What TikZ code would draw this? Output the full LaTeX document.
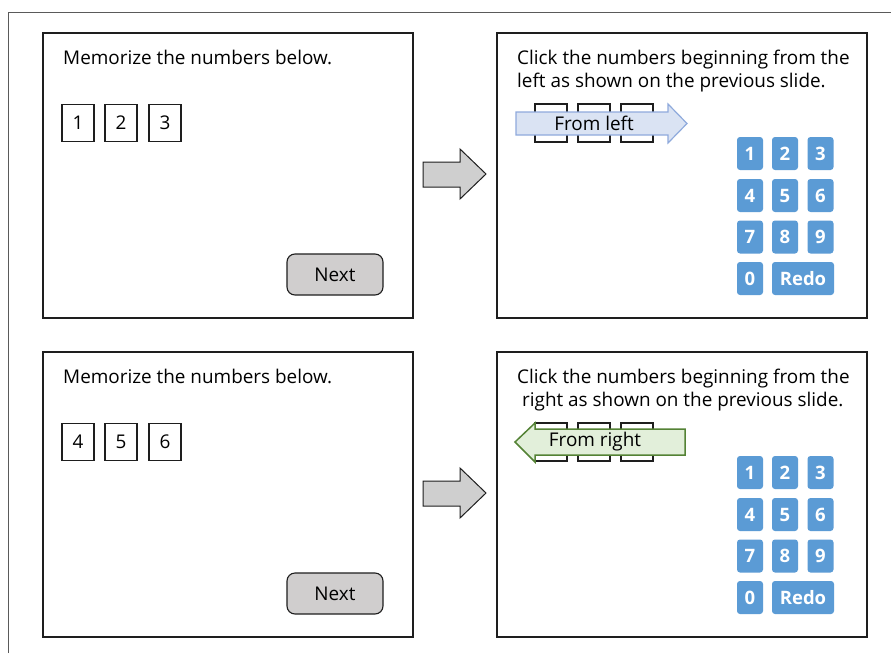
\documentclass[tikz,border=0pt]{standalone}
\usepackage{fontspec}
\setmainfont{Open Sans}
\definecolor{frameC}{HTML}{5A5A5A}
\definecolor{panelC}{HTML}{1E1E1E}
\definecolor{btnFill}{HTML}{D0CECE}
\definecolor{grayArrow}{HTML}{CFCFCF}
\definecolor{blueFill}{HTML}{DAE3F3}
\definecolor{blueLine}{HTML}{8FAADC}
\definecolor{greenFill}{HTML}{E2EFDA}
\definecolor{greenLine}{HTML}{548235}
\definecolor{keyC}{HTML}{5B9BD5}
\begin{document}
\begin{tikzpicture}[x=1pt,y=-1pt,
  panel/.style={draw=panelC,line width=1.3pt,fill=white},
  mainfont/.style={font=\fontsize{18.9}{22}\selectfont},
  txt/.style={mainfont,inner sep=0pt,anchor=base west},
  numbox/.style={draw=panelC,line width=1.1pt,minimum width=32pt,minimum height=37pt,inner sep=0pt,mainfont},
  nextbtn/.style={draw=panelC,line width=1.1pt,fill=btnFill,rounded corners=8pt,minimum width=96pt,minimum height=41pt,inner sep=0pt,mainfont},
  keybtn/.style={fill=keyC,rounded corners=3pt,minimum width=26pt,minimum height=33pt,inner sep=0pt,text=white,font=\fontsize{18.5}{20}\selectfont\bfseries},
  widekey/.style={keybtn,minimum width=62pt},
  garrow/.style={draw=panelC,line width=1pt,fill=grayArrow,line join=miter},
]
\useasboundingbox (0,0) rectangle (891,653);
\fill[white] (0,0) rectangle (891,653);
\draw[frameC,line width=1pt] (8,653) -- (8,12) -- (891,12);

\foreach \dy/\a/\b/\c/\r in {0/1/2/3/t, 319/4/5/6/b}{
  \begin{scope}[yshift=-\dy pt]
  % left panel
  \draw[panel] (43,33) rectangle (413,318);
  \node[txt] (mem\r) at (63,64) {Memorize the numbers below.};
  \node[numbox] (bx1\r) at (78,123) {\a};
  \node[numbox] (bx2\r) at (121,123) {\b};
  \node[numbox] (bx3\r) at (165,123) {\c};
  \node[nextbtn] (next\r) at (335,274.5) {Next};
  % gray arrow
  \draw[garrow] (423,162) -- (460,162) -- (460,149) -- (486,174) -- (460,199) -- (460,187) -- (423,187) -- cycle;
  % right panel
  \draw[panel] (497,33) rectangle (867,318);
  \draw[panelC,line width=1.1pt] (535,104) rectangle (567,142);
  \draw[panelC,line width=1.1pt] (578,104) rectangle (610,142);
  \draw[panelC,line width=1.1pt] (621,104) rectangle (653,142);
  % keypad
  \node[keybtn] (k1\r) at (750,153.5) {1};
  \node[keybtn] (k2\r) at (785,153.5) {2};
  \node[keybtn] (k3\r) at (820.5,153.5) {3};
  \node[keybtn] (k4\r) at (750,195.5) {4};
  \node[keybtn] (k5\r) at (785,195.5) {5};
  \node[keybtn] (k6\r) at (820.5,195.5) {6};
  \node[keybtn] (k7\r) at (750,237) {7};
  \node[keybtn] (k8\r) at (785,237) {8};
  \node[keybtn] (k9\r) at (820.5,237) {9};
  \node[keybtn] (k0\r) at (750,278.5) {0};
  \node[widekey] (kr\r) at (803,278.5) {Redo};
  \end{scope}
}
% top right text and blue arrow
\node[txt] (ins1t) at (517,64) {Click the numbers beginning from the};
\node[txt] (ins2t) at (517,87) {left as shown on the previous slide.};
\draw[blueLine,fill=blueFill,line width=1.2pt] (516,112) -- (668,112) -- (668,104) -- (687,123.5) -- (668,143) -- (668,135) -- (516,135) -- cycle;
\node[mainfont,inner sep=0pt] (fl) at (594,123.5) {From left};
% bottom right text and green arrow
\node[txt] (ins1b) at (517,383) {Click the numbers beginning from the};
\node[txt] (ins2b) at (522,406) {right as shown on the previous slide.};
\draw[greenLine,fill=greenFill,line width=1.5pt] (685,429) -- (535,429) -- (535,423) -- (515,442) -- (535,462) -- (535,455) -- (685,455) -- cycle;
\node[mainfont,inner sep=0pt] (fr) at (595,442) {From right};
\end{tikzpicture}
\end{document}
